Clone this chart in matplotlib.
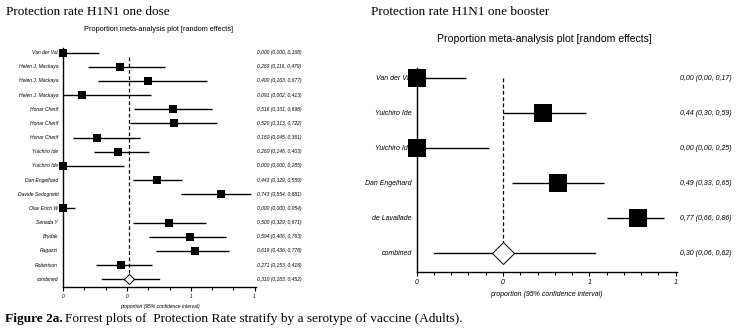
import matplotlib.pyplot as plt
from matplotlib.ticker import MultipleLocator, FormatStrFormatter

plt.rcParams['font.family'] = ['Liberation Sans', 'DejaVu Sans']

# one dose studies
dose_names = ["Van der Val", "Helen J. Mackaya", "Helen J. Mackaya", "Helen J. Mackaya",
              "Honar Cherif", "Honar Cherif", "Honar Cherif", "Yuichiro Ide", "Yuichiro Ide",
              "Dan Engelhard", "Davide Sedognetti", "Olav Erich W", "Senada Y", "Brydak",
              "Ragazzi", "Robertson"]
dose_est = [0.000, 0.269, 0.400, 0.091, 0.516, 0.520, 0.160, 0.260, 0.000,
            0.443, 0.743, 0.000, 0.500, 0.594, 0.619, 0.271]
dose_lo = [0.000, 0.116, 0.163, 0.002, 0.331, 0.313, 0.045, 0.146, 0.000,
           0.329, 0.554, 0.000, 0.329, 0.406, 0.436, 0.153]
dose_hi = [0.168, 0.479, 0.677, 0.413, 0.698, 0.722, 0.361, 0.403, 0.285,
           0.559, 0.881, 0.054, 0.671, 0.763, 0.778, 0.418]
dose_comb = (0.310, 0.183, 0.452)

# one booster studies
boost_names = ["Van der Val", "Yuichiro Ide", "Yuichiro Ide", "Dan Engelhard", "de Lavallade"]
boost_est = [0.00, 0.44, 0.00, 0.49, 0.77]
boost_lo = [0.00, 0.30, 0.00, 0.33, 0.66]
boost_hi = [0.17, 0.59, 0.25, 0.65, 0.86]
boost_comb = (0.30, 0.06, 0.62)

W, H = 742, 333
fig = plt.figure(figsize=(W / 100, H / 100), dpi=100)


def px_axes(x0, x1, ytop, ybot):
    return fig.add_axes([x0 / W, (H - ybot) / H, (x1 - x0) / W, (ybot - ytop) / H])


def forest(ax, names, est, lo, hi, comb, xmax, ylim, decimals, fs, sq, dia,
           minor, val_x, lab_off, dash_top, tick_fs, xlab_fs, tickpad, labpad):
    n = len(names)
    rows = list(range(n + 1))
    labels = names + ["combined"]
    for i in range(n):
        ax.plot([lo[i], hi[i]], [i, i], color='black', lw=1.0, zorder=3, solid_capstyle='butt')
        ax.plot(est[i], i, marker='s', ms=sq, color='black', mew=0, zorder=5, clip_on=False)
    c, clo, chi = comb
    ax.plot([clo, chi], [n, n], color='black', lw=1.0, zorder=3)
    ax.plot(c, n, marker='D', ms=dia, mfc='white', mec='black', mew=0.7, zorder=5, clip_on=False)
    ax.vlines(c, dash_top, n - 0.33, colors='black', linestyles=(0, (3, 2)), lw=0.9, zorder=2)

    fmt = "%.{0}f (%.{0}f, %.{0}f)".format(decimals)
    vals = list(zip(est, lo, hi)) + [comb]
    for r, lab, v in zip(rows, labels, vals):
        ax.annotate(lab, xy=(0, r), xytext=(lab_off, 0), textcoords='offset points',
                    ha='right', va='center', fontsize=fs, style='italic', zorder=1)
        ax.text(val_x, r, (fmt % v).replace('.', ','), transform=ax.get_yaxis_transform(),
                ha='left', va='center', fontsize=fs, style='italic', clip_on=False)

    ax.set_xlim(0, xmax)
    ax.set_ylim(*ylim)
    for s in ['top', 'right']:
        ax.spines[s].set_visible(False)
    for s in ['left', 'bottom']:
        ax.spines[s].set_linewidth(1.0)
    ax.set_yticks([])
    ax.xaxis.set_major_locator(MultipleLocator(0.3))
    ax.xaxis.set_minor_locator(MultipleLocator(minor))
    ax.xaxis.set_major_formatter(FormatStrFormatter('%.0f'))
    ax.tick_params(axis='x', which='major', length=3, width=0.8, labelsize=tick_fs, pad=tickpad)
    ax.tick_params(axis='x', which='minor', length=2, width=0.8)
    for t in ax.get_xticklabels():
        t.set_style('italic')
    ax.set_xlabel("proportion (95% confidence interval)", fontsize=xlab_fs,
                  style='italic', labelpad=labpad)


# left panel: rows start at y=52.7px, 14.16px apart
axL = px_axes(63, 256, 48, 286.7)
forest(axL, dose_names, dose_est, dose_lo, dose_hi, dose_comb,
       xmax=(256 - 63) / 213, ylim=(16.53, -0.33), decimals=3, fs=3.6, sq=5.6, dia=4.6,
       minor=0.1, val_x=1.005, lab_off=-3.5, dash_top=0.3, tick_fs=3.5, xlab_fs=3.6,
       tickpad=2.5, labpad=3)

# right panel: rows start at y=78.3px, 35px apart
axR = px_axes(416.7, 676.7, 68, 271.7)
forest(axR, boost_names, boost_est, boost_lo, boost_hi, boost_comb,
       xmax=260 / 287.7, ylim=(5.526, -0.294), decimals=2, fs=5.0, sq=12.5, dia=11.3,
       minor=0.06, val_x=1.013, lab_off=-3.5, dash_top=0.0, tick_fs=5, xlab_fs=5,
       tickpad=2, labpad=4)

# headings
fig.text(6 / W, 1 - 12 / H, "Protection rate H1N1 one dose", family='Liberation Serif',
         fontsize=9.5, va='center', ha='left')
fig.text(371 / W, 1 - 12 / H, "Protection rate H1N1 one booster", family='Liberation Serif',
         fontsize=9.5, va='center', ha='left')
fig.text(159 / W, 1 - 29.3 / H, "Proportion meta-analysis plot [random effects]",
         fontsize=5.3, ha='center', va='center')
fig.text(544 / W, 1 - 39 / H, "Proportion meta-analysis plot [random effects]",
         fontsize=7.6, ha='center', va='center')

# caption with bold figure number
cap_y = 1 - 319 / H
t1 = fig.text(5 / W, cap_y, "Figure 2a.", family='Liberation Serif', weight='bold',
              fontsize=9.6, va='center', ha='left')
fig.canvas.draw()
bb = t1.get_window_extent(fig.canvas.get_renderer())
fig.text(bb.x1 / W + 2 / W, cap_y,
         "Forrest plots of  Protection Rate stratify by a serotype of vaccine (Adults).",
         family='Liberation Serif', fontsize=9.6, va='center', ha='left')

fig.savefig("out.png", dpi=100, facecolor='white')
